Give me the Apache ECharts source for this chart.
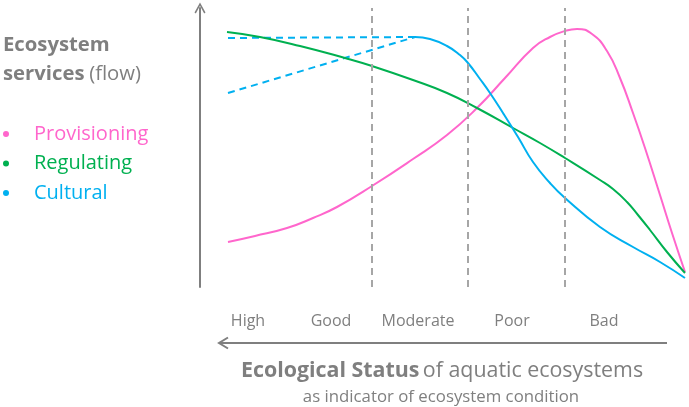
<!DOCTYPE html>
<html>
<head>
<meta charset="utf-8">
<script src="https://cdn.jsdelivr.net/npm/echarts@6/dist/echarts.min.js"></script>
<style>
html,body{margin:0;padding:0;background:#fff;}
#chart{width:689px;height:407px;}
</style>
</head>
<body>
<div id="chart"></div>
<script>
// Ecological status labels (positions along the condition axis, 0 = best)
var statusLabels = ['High', 'Good', 'Moderate', 'Poor', 'Bad'];
var statusLabelPos = [48, 131, 218, 312, 404];
var statusBounds = [172, 268, 365];

// Service flow curves: [condition, flow]
var provisioning = [[28,45],[55,51],[87,59],[113,69],[137,80],[172,101],[213,128],[247,152],[277,179],[305,209],[333,239],[350,250],[365,256],[377,258],[392,253],[407,236],[420,209],[433,174],[445,139],[460,92],[472,54],[485,15]];
var regulating = [[27,255],[60,250],[100,241],[145,229],[172,221],[213,207],[247,194],[277,179],[313,159],[340,144],[365,129],[400,107],[413,98],[427,85],[438,72],[450,57],[467,35],[485,14]];
var cultural = [[215,250],[230,248],[247,241],[260,232],[268,224],[280,208],[290,194],[303,174],[318,150],[333,125],[350,104],[365,89],[400,60],[433,40],[460,25],[485,9]];
var culturalAltFlat = [[28,249],[215,250]];
var culturalAltRise = [[28,194],[215,250]];

var GREY = '#7f7f7f';
var FONT = 'Open Sans';
var PINK = '#FF66CC', GREEN = '#00B050', CYAN = '#00B0F0';

var chart = echarts.init(document.getElementById('chart'), null, {renderer: 'canvas'});
var labelMap = {};
statusLabelPos.forEach(function (p, i) { labelMap[p] = statusLabels[i]; });

var option = {
  animation: false,
  backgroundColor: '#fff',
  grid: {left: 200, right: 4, top: 8, bottom: 120},
  title: {
    text: '{b|Ecosystem}\n{b|services} {n|(flow)}',
    left: 3, top: 31, padding: 0,
    textStyle: {
      fontFamily: FONT,
      rich: {
        b: {fontFamily: FONT, fontWeight: 'bold', fontSize: 20.3, color: GREY, lineHeight: 29},
        n: {fontFamily: FONT, fontWeight: 'normal', fontSize: 20.3, color: GREY, lineHeight: 29}
      }
    }
  },
  legend: {
    orient: 'vertical', left: 3, top: 123, padding: 0,
    icon: 'circle', itemWidth: 6, itemHeight: 6, itemGap: 7.5,
    selectedMode: false,
    textStyle: {fontFamily: FONT, fontSize: 20, padding: [0, 0, 0, 20], lineHeight: 22},
    data: [
      {name: 'Provisioning', textStyle: {color: PINK}},
      {name: 'Regulating', textStyle: {color: GREEN}},
      {name: 'Cultural', textStyle: {color: CYAN}}
    ]
  },
  xAxis: {
    type: 'value', min: 0, max: 485,
    axisLine: {show: false}, axisTick: {show: false}, splitLine: {show: false},
    axisLabel: {
      customValues: statusLabelPos,
      formatter: function (v) { return labelMap[v] || ''; },
      color: GREY, fontFamily: FONT, fontSize: 16, margin: 26
    }
  },
  yAxis: {
    type: 'value', min: 0, max: 279,
    axisLine: {
      show: true, lineStyle: {color: GREY, width: 2},
      symbol: ['none', 'path://M5,0 L10,9 L8.8,10 L5,3 L1.2,10 L0,9 Z'],
      symbolSize: [11, 11]
    },
    axisTick: {show: false}, axisLabel: {show: false}, splitLine: {show: false}
  },
  series: [
    {
      name: 'Provisioning', type: 'line', data: provisioning, smooth: 0.5,
      showSymbol: false, symbol: 'none', color: PINK, lineStyle: {width: 2, color: PINK}, z: 3,
      markLine: {
        silent: true, symbol: 'none', label: {show: false},
        lineStyle: {type: [7, 5], color: '#a6a6a6', width: 2},
        data: statusBounds.map(function (b) { return {xAxis: b}; })
      }
    },
    {
      name: 'Regulating', type: 'line', data: regulating, smooth: 0.5,
      showSymbol: false, symbol: 'none', color: GREEN, lineStyle: {width: 2, color: GREEN}, z: 3
    },
    {
      name: 'Cultural', type: 'line', data: cultural, smooth: 0.5,
      showSymbol: false, symbol: 'none', color: CYAN, lineStyle: {width: 2, color: CYAN}, z: 3
    },
    {
      name: 'Cultural (alt. flat)', type: 'line', data: culturalAltFlat,
      showSymbol: false, symbol: 'none', color: CYAN, lineStyle: {width: 2, color: CYAN, type: [7, 5]}, z: 2
    },
    {
      name: 'Cultural (alt. rise)', type: 'line', data: culturalAltRise,
      showSymbol: false, symbol: 'none', color: CYAN, lineStyle: {width: 2, color: CYAN, type: [7, 5]}, z: 2
    }
  ],
  graphic: [
    {type: 'polyline', shape: {points: [[667, 343], [219, 343]]}, style: {stroke: GREY, lineWidth: 2, fill: null}},
    {type: 'polyline', shape: {points: [[228, 337.5], [219, 343], [228, 348.5]]}, style: {stroke: GREY, lineWidth: 2, fill: null}},
    {
      type: 'text', x: 442, y: 371,
      style: {
        text: '{b|Ecological Status} {n|of aquatic ecosystems}',
        align: 'center', verticalAlign: 'middle',
        rich: {
          b: {fontFamily: FONT, fontWeight: 'bold', fontSize: 21.4, fill: GREY},
          n: {fontFamily: FONT, fontWeight: 'normal', fontSize: 21.4, fill: GREY}
        }
      }
    },
    {
      type: 'text', x: 441, y: 397.5,
      style: {
        text: 'as indicator of ecosystem condition',
        align: 'center', verticalAlign: 'middle',
        fontFamily: FONT, fontSize: 16.8, fill: GREY
      }
    }
  ]
};
chart.setOption(option);
</script>
</body>
</html>
